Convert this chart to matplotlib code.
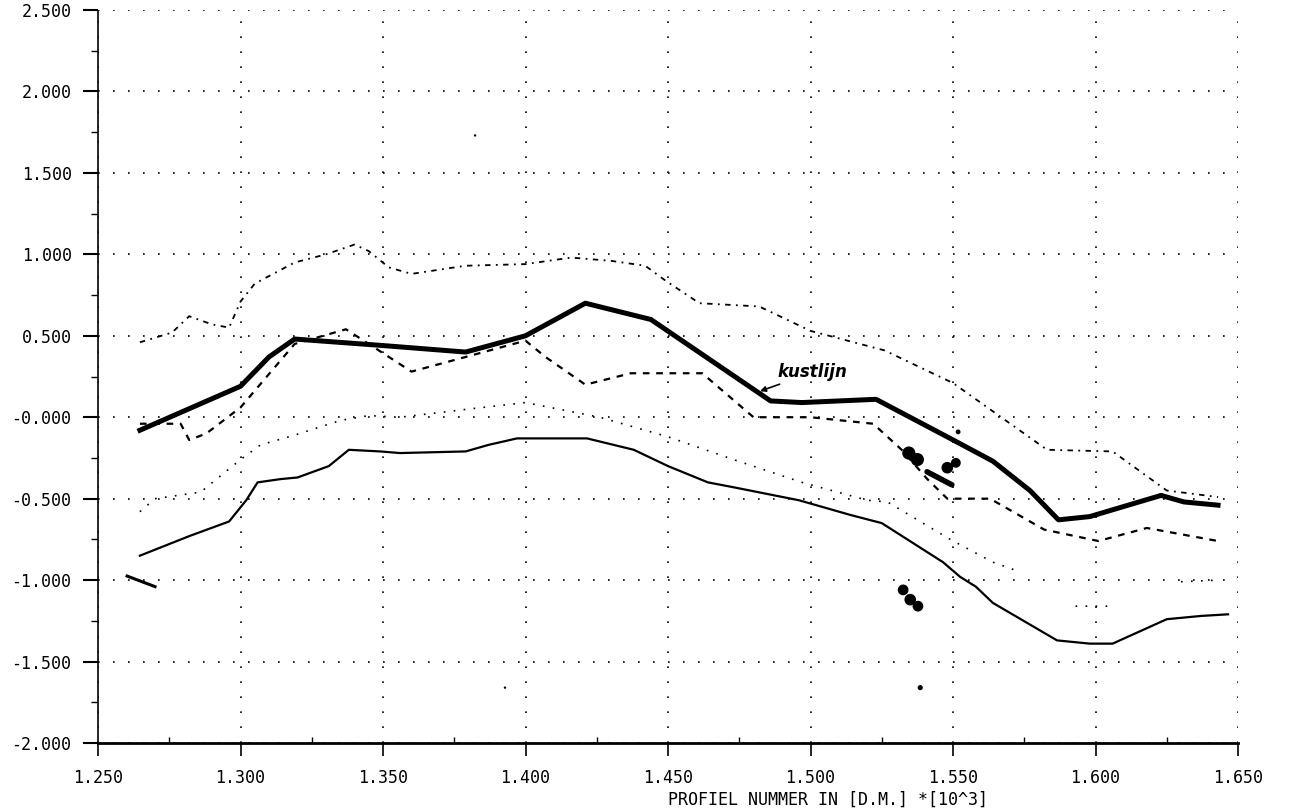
import numpy as np
import matplotlib.pyplot as plt
from matplotlib.ticker import MultipleLocator, FixedLocator

# kustlijn (dikke lijn)
kust_x = [1.2647, 1.300, 1.310, 1.319, 1.350, 1.379, 1.400, 1.421, 1.444, 1.486, 1.497, 1.523,
          1.549, 1.564, 1.577, 1.587, 1.598, 1.623, 1.631, 1.643]
kust_y = [-0.08, 0.19, 0.37, 0.48, 0.44, 0.40, 0.50, 0.70, 0.60, 0.10, 0.09, 0.11,
          -0.13, -0.27, -0.45, -0.63, -0.61, -0.48, -0.52, -0.54]

# gestreepte lijn
streep_x = [1.2647, 1.279, 1.282, 1.288, 1.300, 1.319, 1.337, 1.345, 1.360, 1.379, 1.400, 1.407,
            1.421, 1.437, 1.462, 1.480, 1.500, 1.522, 1.532, 1.541, 1.548, 1.563, 1.582, 1.601,
            1.618, 1.643]
streep_y = [-0.04, -0.04, -0.14, -0.10, 0.06, 0.45, 0.54, 0.45, 0.28, 0.37, 0.47, 0.37,
            0.20, 0.27, 0.27, 0.00, 0.00, -0.04, -0.20, -0.38, -0.50, -0.50, -0.69, -0.76,
            -0.68, -0.76]

# bovenste lijn (streep-punt)
boven_x = [1.2647, 1.276, 1.282, 1.290, 1.296, 1.300, 1.305, 1.319, 1.330, 1.340, 1.345, 1.352,
           1.360, 1.379, 1.400, 1.416, 1.430, 1.442, 1.449, 1.461, 1.482, 1.500, 1.526, 1.550,
           1.583, 1.606, 1.625, 1.643]
boven_y = [0.46, 0.52, 0.62, 0.57, 0.55, 0.71, 0.82, 0.95, 1.00, 1.06, 1.02, 0.92,
           0.88, 0.93, 0.94, 0.98, 0.96, 0.93, 0.84, 0.70, 0.68, 0.53, 0.41, 0.21,
           -0.20, -0.21, -0.45, -0.49]

# gestippelde lijn
stip_x = [1.2647, 1.270, 1.286, 1.300, 1.307, 1.319, 1.335, 1.345, 1.356, 1.380, 1.400, 1.426,
          1.450, 1.473, 1.497, 1.520, 1.527, 1.549, 1.564, 1.572, np.nan, 1.593, 1.607, np.nan,
          1.630, 1.643]
stip_y = [-0.58, -0.50, -0.46, -0.26, -0.17, -0.11, -0.02, 0.01, 0.00, 0.05, 0.09, 0.00,
          -0.12, -0.26, -0.40, -0.51, -0.52, -0.75, -0.89, -0.94, np.nan, -1.16, -1.16, np.nan,
          -1.01, -1.00]

# onderste lijn (getrapt)
onder_x = [1.2647, 1.282, 1.296, 1.302, 1.306, 1.314, 1.320, 1.331, 1.338, 1.349, 1.356, 1.379,
           1.387, 1.397, 1.4216, 1.438, 1.450, 1.464, 1.473, 1.496, 1.514, 1.525, 1.5465, 1.5525,
           1.558, 1.564, 1.5865, 1.598, 1.606, 1.625, 1.637, 1.6465]
onder_y = [-0.85, -0.73, -0.64, -0.51, -0.40, -0.38, -0.37, -0.30, -0.20, -0.21, -0.22, -0.21,
           -0.17, -0.13, -0.13, -0.20, -0.30, -0.40, -0.43, -0.51, -0.60, -0.65, -0.89, -0.98,
           -1.04, -1.14, -1.37, -1.39, -1.39, -1.24, -1.22, -1.21]

# los stukje bij -1.0
los_x = [1.2602, 1.2700]
los_y = [-0.975, -1.04]

# inktvlekken en veeg
vlek_x = [1.5345, 1.5375, 1.5480, 1.5510, 1.5518, 1.5325, 1.5350, 1.5377, 1.5385, 1.3823, 1.3928]
vlek_y = [-0.22, -0.26, -0.31, -0.28, -0.09, -1.06, -1.12, -1.16, -1.66, 1.73, -1.66]
vlek_s = [90, 90, 70, 50, 12, 60, 70, 60, 14, 3, 3]
veeg_x = [1.5409, 1.5496]
veeg_y = [-0.335, -0.415]

xticks = [1.250, 1.300, 1.350, 1.400, 1.450, 1.500, 1.550, 1.600, 1.650]
xlabels = ['1.250', '1.300', '1.350', '1.400', '1.450', '1.500', '1.550', '1.600', '1.650']
yticks = [-2.0, -1.5, -1.0, -0.5, 0.0, 0.5, 1.0, 1.5, 2.0, 2.5]
ylabels = ['-2.000', '-1.500', '-1.000', '-0.500', '-0.000', '0.500', '1.000', '1.500',
           '2.000', '2.500']

font = 'DejaVu Sans Mono'

fig = plt.figure(figsize=(13.1, 8.11), dpi=100)
ax = fig.add_axes([98 / 1310, 1 - 743 / 811, 1140 / 1310, 733 / 811])

ax.plot(boven_x, boven_y, color='black', lw=1.3, linestyle=(0, (3, 3, 1, 3)))
ax.plot(stip_x, stip_y, color='black', lw=1.2, linestyle=(0, (1, 5)))
ax.plot(onder_x, onder_y, color='black', lw=1.6)
ax.plot(streep_x, streep_y, color='black', lw=1.6, linestyle=(0, (3, 3)))
ax.plot(kust_x, kust_y, color='black', lw=3.6, solid_joinstyle='round')
ax.plot(los_x, los_y, color='black', lw=2.2)
ax.plot(veeg_x, veeg_y, color='black', lw=4, solid_capstyle='round')
ax.scatter(vlek_x, vlek_y, s=vlek_s, color='black', linewidths=0)

ax.annotate('kustlijn', xy=(1.4823, 0.16), xytext=(1.4885, 0.275),
            fontsize=12, fontstyle='italic', fontweight='bold', va='center', ha='left',
            arrowprops=dict(arrowstyle='-|>', color='black', lw=1.2, mutation_scale=8,
                            shrinkA=0, shrinkB=0))

ax.set_xlim(1.25, 1.65)
ax.set_ylim(-2.0, 2.5)
ax.xaxis.set_major_locator(FixedLocator(xticks))
ax.set_xticklabels(xlabels, fontfamily=font, fontsize=12)
ax.yaxis.set_major_locator(FixedLocator(yticks))
ax.set_yticklabels(ylabels, fontfamily=font, fontsize=12)
ax.xaxis.set_minor_locator(MultipleLocator(0.025))
ax.yaxis.set_minor_locator(MultipleLocator(0.25))

ax.grid(True, which='major', color='black', lw=1.2, linestyle=(0, (1, 8)))
ax.tick_params(axis='y', which='major', direction='out', length=11, width=1.5, pad=8)
ax.tick_params(axis='y', which='minor', direction='out', length=5, width=1)
ax.tick_params(axis='x', which='major', direction='out', length=9, width=1.2, pad=10)
ax.tick_params(axis='x', which='minor', direction='in', length=4, width=1)

for s in ['top', 'right']:
    ax.spines[s].set_visible(False)
ax.spines['left'].set_linestyle((0, (1, 1)))
ax.spines['left'].set_linewidth(1.2)
ax.spines['bottom'].set_linewidth(2)

ax.set_xlabel('PROFIEL NUMMER IN [D.M.] *[10^3]', fontfamily=font, fontsize=12,
              ha='left', va='center')
ax.xaxis.set_label_coords(0.5, -57 / 733)

fig.savefig('out.png', dpi=100, facecolor='white')
